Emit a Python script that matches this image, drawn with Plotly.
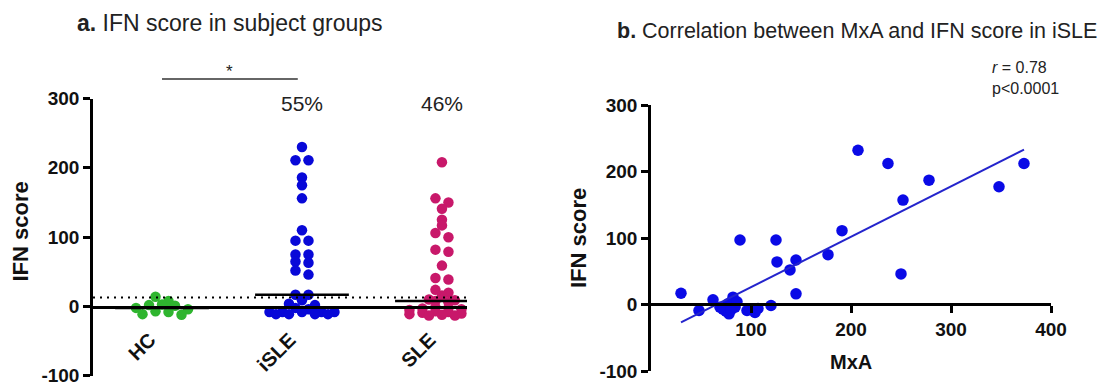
import numpy as np
import plotly.graph_objects as go

# ---------------- data ----------------
groups = ["HC", "iSLE", "SLE"]
hc_scores = [14, 8, 3, 2, 1, -2, -4, -7, -8, -11, -12]
isle_scores = [230, 211, 211, 186, 175, 156, 110, 95, 95, 75, 75, 65, 63, 52, 46,
               17, 17, 9, 4, 2, -2, -4, -8, -8, -8, -8, -8, -11, -11, -11, -11]
sle_scores = [208, 156, 150, 141, 125, 117, 106, 100, 82, 79, 59, 41, 39, 24, 20, 16,
              10, 9, 8, 6, -1, -2, -3, -4, -5, -6, -7, -8, -9, -10, -11, -11, -12, -13, -13]
group_medians = [-2, 17, 8]
ifn_threshold = 13
pct_positive = ["", "55%", "46%"]

mxa = [207, 237, 373, 278, 348, 252, 191, 89, 125, 126, 145, 139, 177, 250, 145,
       30, 48, 62, 69, 75, 77, 82, 84, 72, 78, 80, 86, 96, 104, 107, 120]
ifn_isle = [232, 212, 212, 187, 177, 157, 111, 97, 97, 64, 67, 52, 75, 46, 16,
            17, -9, 7, -4, -10, 1, 11, -4, -7, -14, -8, 4, -9, -12, -6, -1.5]
fit_mxa = [30, 373]
fit_ifn = [-27, 233]

y_ticks = [-100, 0, 100, 200, 300]
y_tick_labels = ["-100", "0", "100", "200", "300"]
x2_ticks = [100, 200, 300, 400]
x2_tick_labels = ["100", "200", "300", "400"]

# page body has an 8px margin; work in window pixels and convert
OFF = 8
W, H = 1102, 377
FONT = "Liberation Sans, Arial, sans-serif"
colors = ["#2fb52f", "#0808d8", "#c8186a"]

Y0_LEFT, Y300_LEFT = 306.5, 98.5      # window px of y=0 and y=300 (left panel)
PX_PER_Y_LEFT = (Y0_LEFT - Y300_LEFT) / 300.0


def px(x):
    return (x - OFF) / W


def py(y):
    return 1 - (y - OFF) / H


def swarm(values, center, px_per_x=140.0, px_per_y=PX_PER_Y_LEFT,
          row_h=5.0, max_row=6, spacing=13.0):
    """Column-scatter layout: group close values into rows, spread each row."""
    vals = np.asarray(values, dtype=float)
    order = list(np.argsort(-vals, kind="stable"))
    rows, cur = [], []
    for idx in order:
        if cur and (vals[cur[0]] - vals[idx]) * px_per_y <= row_h and len(cur) < max_row:
            cur.append(idx)
        else:
            if cur:
                rows.append(cur)
            cur = [idx]
    if cur:
        rows.append(cur)
    xs = np.zeros(len(vals))
    for row in rows:
        n = len(row)
        slots = [(k - (n - 1) / 2.0) * spacing for k in range(n)]
        slots.sort(key=lambda s: (abs(s), s))
        for idx, s in zip(row, slots):
            xs[idx] = center + s / px_per_x
    return xs


fig = go.Figure()

for i, (vals, col) in enumerate(zip([hc_scores, isle_scores, sle_scores], colors)):
    fig.add_trace(go.Scatter(
        x=swarm(vals, i), y=vals, mode="markers",
        marker=dict(color=col, size=10.5, line=dict(width=0)),
        xaxis="x", yaxis="y", showlegend=False, cliponaxis=False))

fig.add_trace(go.Scatter(
    x=mxa, y=ifn_isle, mode="markers",
    marker=dict(color="#0a0ae6", size=11.5, line=dict(width=0)),
    xaxis="x2", yaxis="y2", showlegend=False, cliponaxis=False))
fig.add_trace(go.Scatter(
    x=fit_mxa, y=fit_ifn, mode="lines",
    line=dict(color="#2424cc", width=2),
    xaxis="x2", yaxis="y2", showlegend=False))

shapes = []
for i, m in enumerate(group_medians):
    shapes.append(dict(type="line", xref="x", yref="y", x0=i - 0.335, x1=i + 0.335,
                       y0=m, y1=m, line=dict(color="black", width=2.5)))
shapes.append(dict(type="line", xref="x", yref="y", x0=-0.493, x1=2.179,
                   y0=ifn_threshold, y1=ifn_threshold,
                   line=dict(color="black", width=2, dash="2px,5px")))
shapes.append(dict(type="line", xref="x", yref="paper", x0=0, x1=0.97,
                   y0=py(79), y1=py(79), line=dict(color="#333", width=1.3)))

tick_font = dict(family=FONT, size=19, color="#111", weight="bold")

annotations = [
    dict(text="<b>a.</b> IFN score in subject groups", x=px(75), y=py(23),
         xref="paper", yref="paper", xanchor="left", yanchor="middle",
         showarrow=False, font=dict(family=FONT, size=23, color="#222")),
    dict(text="<b>b.</b> Correlation between MxA and IFN score in iSLE", x=px(615), y=py(31),
         xref="paper", yref="paper", xanchor="left", yanchor="middle",
         showarrow=False, font=dict(family=FONT, size=21.5, color="#222")),
    dict(text="<i>r</i> = 0.78<br>p&lt;0.0001", x=px(990), y=py(78),
         xref="paper", yref="paper", xanchor="left", yanchor="middle", align="left",
         showarrow=False, font=dict(family=FONT, size=16, color="#222")),
    dict(text="*", x=0.48, y=py(72), xref="x", yref="paper", showarrow=False,
         xanchor="center", yanchor="middle", font=dict(family=FONT, size=17, color="#222")),
    dict(text="<b>IFN score</b>", x=px(19.5), y=py(232), xref="paper", yref="paper",
         textangle=-90, showarrow=False, xanchor="center", yanchor="middle",
         font=dict(family=FONT, size=22, color="#111")),
    dict(text="<b>IFN score</b>", x=px(578), y=py(238), xref="paper", yref="paper",
         textangle=-90, showarrow=False, xanchor="center", yanchor="middle",
         font=dict(family=FONT, size=22, color="#111")),
    dict(text="<b>MxA</b>", x=px(851), y=py(362), xref="paper", yref="paper",
         showarrow=False, xanchor="center", yanchor="middle",
         font=dict(family=FONT, size=20, color="#111")),
]
for i, t in enumerate(pct_positive):
    if t:
        annotations.append(dict(text=t, x=i, y=py(104), xref="x", yref="paper",
                                showarrow=False, xanchor="center", yanchor="middle",
                                font=dict(family=FONT, size=21, color="#222")))

fig.update_layout(
    width=W, height=H, margin=dict(l=0, r=0, t=0, b=0),
    paper_bgcolor="white", plot_bgcolor="white",
    font=dict(family=FONT, color="#111"),
    showlegend=False,
    xaxis=dict(domain=[px(93), px(467)], range=[-0.493, 2.179],
               tickvals=[0, 1, 2], ticktext=groups, tickangle=-45,
               anchor="free", position=py(Y0_LEFT), showline=True, linecolor="black",
               linewidth=2.5, ticks="", showgrid=False, zeroline=False,
               ticklabelstandoff=12, ticklabelshift=-12,
               tickfont=dict(family=FONT, size=20, color="#111", weight="bold"),
               automargin=False, fixedrange=True),
    yaxis=dict(domain=[py(Y0_LEFT + 100 * PX_PER_Y_LEFT), py(Y300_LEFT)], range=[-100, 300],
               tickvals=y_ticks, ticktext=y_tick_labels, ticks="outside", ticklen=7,
               tickwidth=2.5, tickcolor="black", showline=True, linecolor="black",
               linewidth=2.5, anchor="x", showgrid=False, zeroline=False,
               ticklabeloverflow="allow",
               tickfont=tick_font, automargin=False, fixedrange=True),
    xaxis2=dict(domain=[px(651), px(1051)], range=[0, 400],
                tickvals=x2_ticks, ticktext=x2_tick_labels, ticks="outside", ticklen=7,
                tickwidth=2.5, tickcolor="black",
                anchor="free", position=py(304), showline=True, linecolor="black",
                linewidth=2.5, showgrid=False, zeroline=False,
                ticklabeloverflow="allow",
                tickfont=tick_font, automargin=False, fixedrange=True),
    yaxis2=dict(domain=[py(371), py(105)], range=[-100, 300],
                tickvals=y_ticks, ticktext=y_tick_labels, ticks="outside", ticklen=7,
                tickwidth=2.5, tickcolor="black", showline=True, linecolor="black",
                linewidth=2.5, anchor="x2", showgrid=False, zeroline=False,
                ticklabeloverflow="allow",
                tickfont=tick_font, automargin=False, fixedrange=True),
    shapes=shapes,
    annotations=annotations,
)

fig.write_html("out.html")
